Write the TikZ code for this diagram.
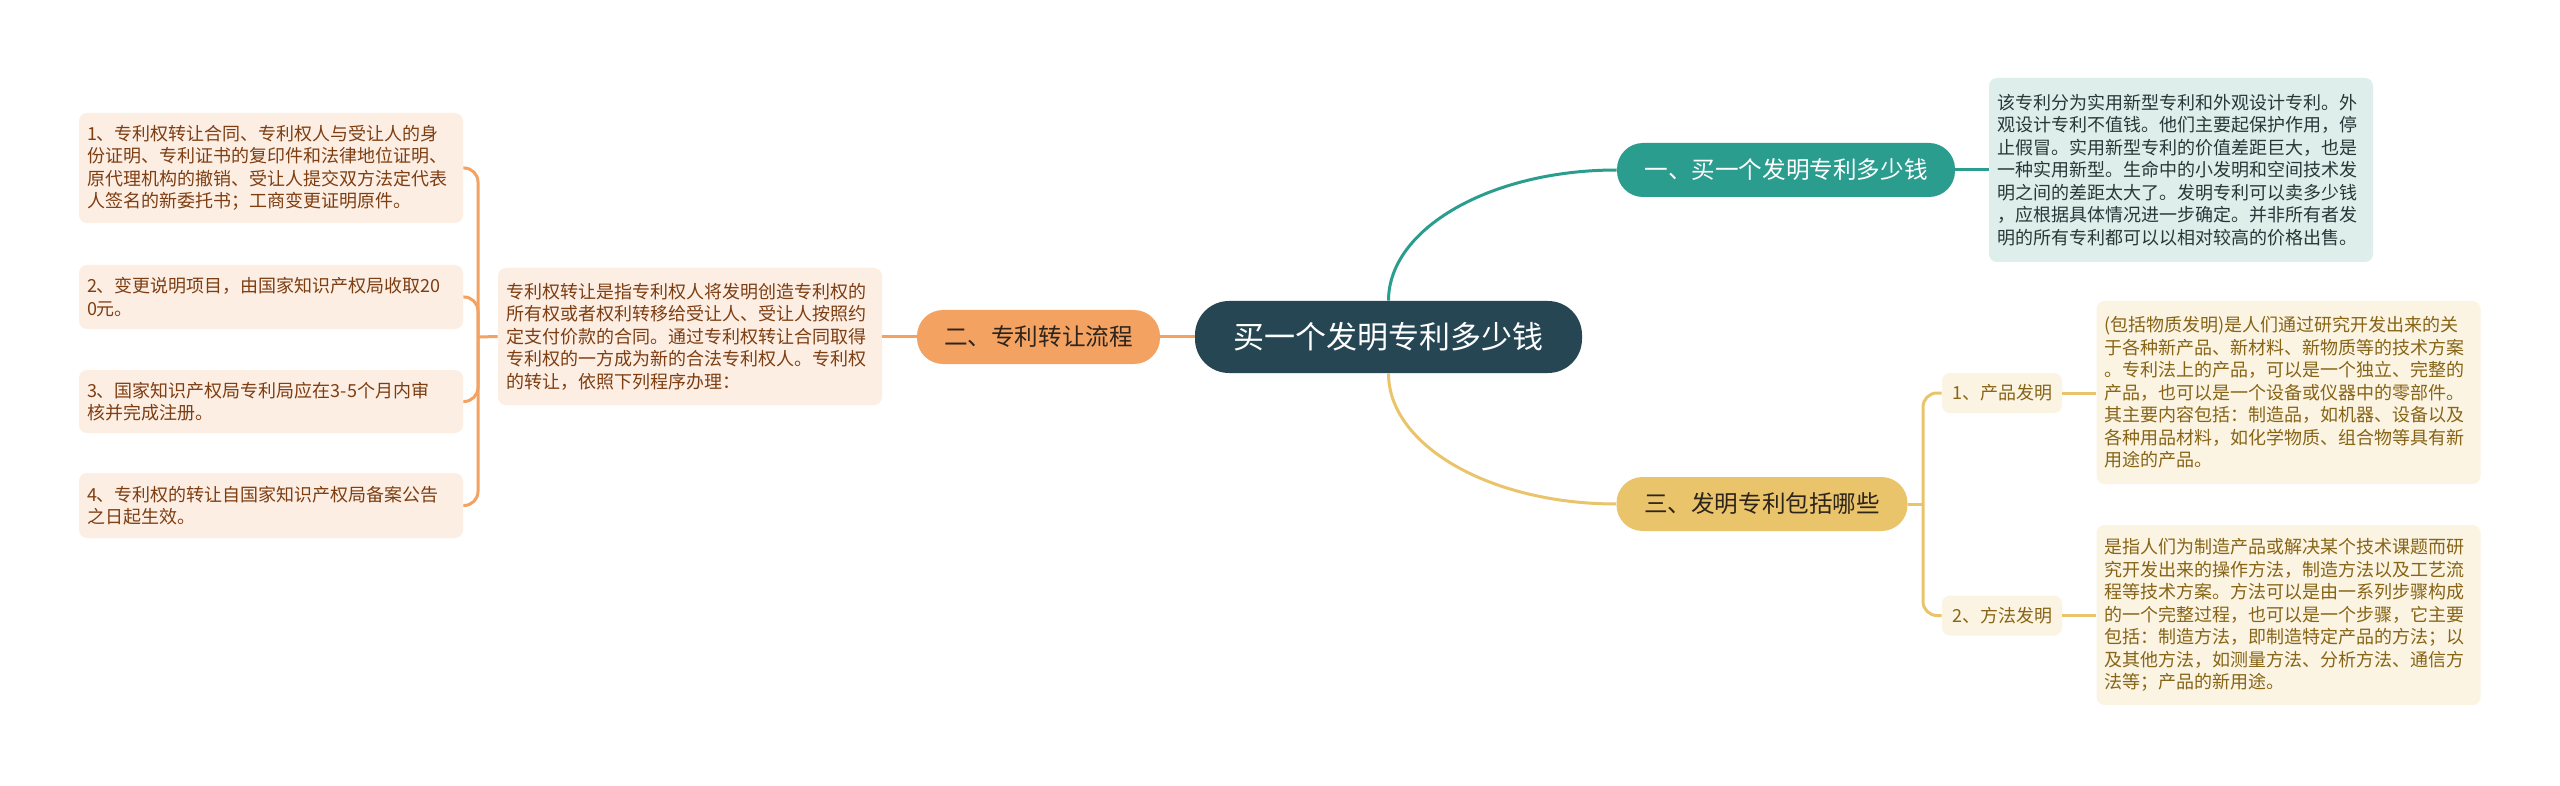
\documentclass[tikz,border=0pt]{standalone}
\usepackage{fontspec}
\setmainfont{Noto Sans CJK SC}
\usetikzlibrary{calc}
\definecolor{cdark}{RGB}{38,70,83}
\definecolor{cteal}{RGB}{42,157,143}
\definecolor{ctealbg}{RGB}{221,238,235}
\definecolor{ctealtx}{RGB}{40,56,56}
\definecolor{corange}{RGB}{244,162,97}
\definecolor{corangebg}{RGB}{253,238,228}
\definecolor{corangetx}{RGB}{125,62,18}
\definecolor{cgold}{RGB}{233,196,106}
\definecolor{cgoldbg}{RGB}{251,244,227}
\definecolor{cgoldtx}{RGB}{135,100,22}
\definecolor{cmaintx}{RGB}{45,36,28}
\begin{document}
\begin{tikzpicture}[x=0.5pt,y=-0.5pt,
  leaf/.style={rounded corners=4pt, text width=184pt, inner xsep=4pt, inner ysep=0pt,
    align=left, font=\fontsize{9pt}{11.25pt}\selectfont},
  mainnode/.style={rounded corners=13pt, inner sep=0pt, minimum height=27pt,
    font=\fontsize{11.8pt}{14pt}\selectfont},
  subnode/.style={rounded corners=4pt, inner sep=0pt, minimum width=60pt, minimum height=20pt,
    fill=cgoldbg, text=cgoldtx, font=\fontsize{9pt}{11pt}\selectfont},
  tline/.style={draw=cteal, line width=1.5pt},
  oline/.style={draw=corange, line width=1.5pt},
  gline/.style={draw=cgold, line width=1.5pt}]
\useasboundingbox (0,0) rectangle (2560,786);
\fill[white] (0,0) rectangle (2560,786);

% central
\node[fill=cdark, text=white, rounded corners=17pt, inner sep=0pt, minimum width=193.5pt,
  minimum height=36pt, font=\fontsize{15.5pt}{18pt}\selectfont] (c) at (1388.5,337) {买一个发明专利多少钱};

% branch 1
\node[mainnode, fill=cteal, text=white, minimum width=169pt] (t1) at (1786,170) {一、买一个发明专利多少钱};
\node[leaf, fill=ctealbg, text=ctealtx, minimum height=92pt] (tl) at (2181,170) {该专利分为实用新型专利和外观设计专利。外\\观设计专利不值钱。他们主要起保护作用，停\\止假冒。实用新型专利的价值差距巨大，也是\\一种实用新型。生命中的小发明和空间技术发\\明之间的差距太大了。发明专利可以卖多少钱\\，应根据具体情况进一步确定。并非所有者发\\明的所有专利都可以以相对较高的价格出售。};

% branch 2
\node[mainnode, fill=corange, text=cmaintx, minimum width=121.5pt] (o) at (1038.5,337) {二、专利转让流程};
\node[leaf, fill=corangebg, text=corangetx, minimum height=68.5pt] (d) at (690,336.5) {专利权转让是指专利权人将发明创造专利权的\\所有权或者权利转移给受让人、受让人按照约\\定支付价款的合同。通过专利权转让合同取得\\专利权的一方成为新的合法专利权人。专利权\\的转让，依照下列程序办理：};
\node[leaf, fill=corangebg, text=corangetx, minimum height=55pt] (b1) at (271,168) {1、专利权转让合同、专利权人与受让人的身\\份证明、专利证书的复印件和法律地位证明、\\原代理机构的撤销、受让人提交双方法定代表\\人签名的新委托书；工商变更证明原件。};
\node[leaf, fill=corangebg, text=corangetx, minimum height=32pt] (b2) at (271,297) {2、变更说明项目，由国家知识产权局收取20\\0元。};
\node[leaf, fill=corangebg, text=corangetx, minimum height=31.5pt] (b3) at (271,401.5) {3、国家知识产权局专利局应在3-5个月内审\\核并完成注册。};
\node[leaf, fill=corangebg, text=corangetx, minimum height=32.5pt] (b4) at (271,505.5) {4、专利权的转让自国家知识产权局备案公告\\之日起生效。};

% branch 3
\node[mainnode, fill=cgold, text=cmaintx, minimum width=145.5pt] (g) at (1762,504) {三、发明专利包括哪些};
\node[subnode] (p) at (2002,393) {1、产品发明};
\node[subnode] (m) at (2002,615.5) {2、方法发明};
\node[leaf, fill=cgoldbg, text=cgoldtx, minimum height=91.5pt] (pl) at (2288.5,392.5) {(包括物质发明)是人们通过研究开发出来的关\\于各种新产品、新材料、新物质等的技术方案\\。专利法上的产品，可以是一个独立、完整的\\产品，也可以是一个设备或仪器中的零部件。\\其主要内容包括：制造品，如机器、设备以及\\各种用品材料，如化学物质、组合物等具有新\\用途的产品。};
\node[leaf, fill=cgoldbg, text=cgoldtx, minimum height=90pt] (ml) at (2288.5,615) {是指人们为制造产品或解决某个技术课题而研\\究开发出来的操作方法，制造方法以及工艺流\\程等技术方案。方法可以是由一系列步骤构成\\的一个完整过程，也可以是一个步骤，它主要\\包括：制造方法，即制造特定产品的方法；以\\及其他方法，如测量方法、分析方法、通信方\\法等；产品的新用途。};

% connectors
\coordinate (j1) at (478,337);
\coordinate (j2) at (1923,504);
\begin{scope}[on background layer/.try]
\end{scope}
\draw[tline] (c.north) .. controls ($(c.north)+(0,-72)$) and ($(t1.west)+(-126,0)$) .. (t1.west);
\draw[tline] (t1.east) -- (tl.west |- t1.east);
\draw[gline] (c.south) .. controls ($(c.south)+(0,72)$) and ($(g.west)+(-126,0)$) .. (g.west);
\draw[oline] (c.west) -- (o.east);
\draw[oline] (o.west) -- (d.east |- o.west);
\draw[oline] (d.west) -- (j1);
\draw[oline, rounded corners=7pt] (j1) |- (b1.east);
\draw[oline, rounded corners=7pt] (j1) |- (b2.east);
\draw[oline, rounded corners=7pt] (j1) |- (b3.east);
\draw[oline, rounded corners=7pt] (j1) |- (b4.east);
\draw[gline] (g.east) -- (j2);
\draw[gline, rounded corners=7pt] (j2) |- (p.west);
\draw[gline, rounded corners=7pt] (j2) |- (m.west);
\draw[gline] (p.east) -- (pl.west |- p.east);
\draw[gline] (m.east) -- (ml.west |- m.east);
\end{tikzpicture}
\end{document}
